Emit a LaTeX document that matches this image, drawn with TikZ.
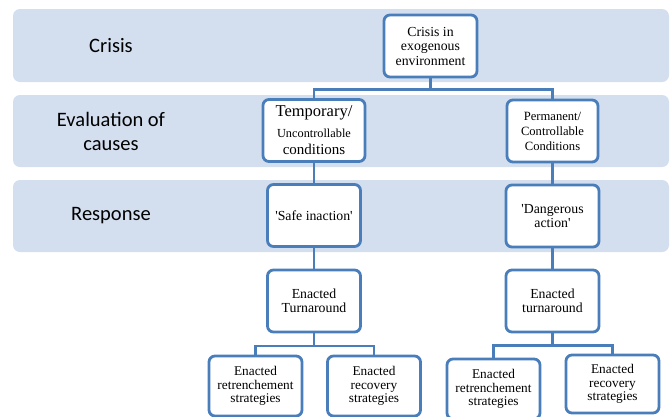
\documentclass[tikz,border=0pt]{standalone}
\usepackage{fontspec}
\setmainfont{Liberation Serif}
\newfontfamily\lanefont{Carlito}
\usetikzlibrary{positioning}
\definecolor{lane}{HTML}{D3DEEF}
\definecolor{rim}{HTML}{4A7EBB}
\begin{document}
\begin{tikzpicture}[x=1pt, y=-1pt, node distance={85pt}, on grid,
    b/.style = {draw=rim, line width=2.8pt, rounded corners=6pt, fill=white, align=center,
      minimum width=93pt, minimum height=62pt, inner sep=1pt, font=\fontsize{13.8}{14.5}\selectfont},
    c/.style = {draw=rim, line width=2.8pt},
    t/.style = {align=center, font=\lanefont\fontsize{20.5}{24}\selectfont}]
    \useasboundingbox (0,0) rectangle (670,416);
    % lanes
    \fill[lane, rounded corners=7pt] (13,9) rectangle (669,82);
    \fill[lane, rounded corners=7pt] (13,95) rectangle (669,167);
    \fill[lane, rounded corners=7pt] (13,180) rectangle (669,252);
    \node[t] (a) at (111,46) {Crisis};
    \node[t] (b) at (111,131) {Evaluation of\\causes};
    \node[t] (c) at (111,216) {Response};
    % boxes
    \node[b] (0) at (430.5,46) {Crisis in\\exogenous\\environment};
    \node[b, minimum width=102pt] (1) [below left=84.5pt and 116.5pt of 0]
      {{\fontsize{16.5}{18}\selectfont Temporary/}\\[6pt]{\fontsize{12.3}{14}\selectfont Uncontrollable}\\[3pt]{\fontsize{15}{16}\selectfont conditions}};
    \node[b, minimum width=91pt, font=\fontsize{12.6}{15}\selectfont] (2) [below right=85pt and 122pt of 0]
      {Permanent/\\Controllable\\Conditions};
    \node[b] (3) [below=85pt of 1] {\textquotesingle Safe inaction\textquotesingle};
    \node[b] (4) [below=85pt of 2] {\textquotesingle Dangerous\\action\textquotesingle};
    \node[b] (5) [below=85.5pt of 3] {Enacted\\Turnaround};
    \node[b] (6) [below=85pt of 4] {Enacted\\turnaround};
    \node[b, minimum height=60pt, font=\fontsize{13.3}{13.8}\selectfont] (7) [below left=85pt and 58.5pt of 5] {Enacted\\retrenchement\\strategies};
    \node[b, minimum height=60pt, font=\fontsize{13.3}{13.8}\selectfont] (8) [below right=85pt and 60pt of 5] {Enacted\\recovery\\strategies};
    \node[b, minimum height=60pt, font=\fontsize{13.3}{13.8}\selectfont] (9) [below left=88pt and 59pt of 6] {Enacted\\retrenchement\\strategies};
    \node[b, minimum height=58pt, font=\fontsize{13.3}{13.8}\selectfont] (10) [below right=83pt and 60pt of 6] {Enacted\\recovery\\strategies};
    % connectors
    \draw[c] (0.south) -- ++(0,11) -| (1.north);
    \draw[c] (0.south) -- ++(0,11) -| (2.north);
    \draw[c] (1) -- (3);
    \draw[c] (2) -- (4);
    \draw[c] (3) -- (5);
    \draw[c] (4) -- (6);
    \draw[c] (5.south) -- ++(0,12.5) -| (7.north);
    \draw[c] (5.south) -- ++(0,12.5) -| (8.north);
    \draw[c] (6.south) -- ++(0,12) -| (9.north);
    \draw[c] (6.south) -- ++(0,12) -| (10.north);
  \end{tikzpicture}
\end{document}
